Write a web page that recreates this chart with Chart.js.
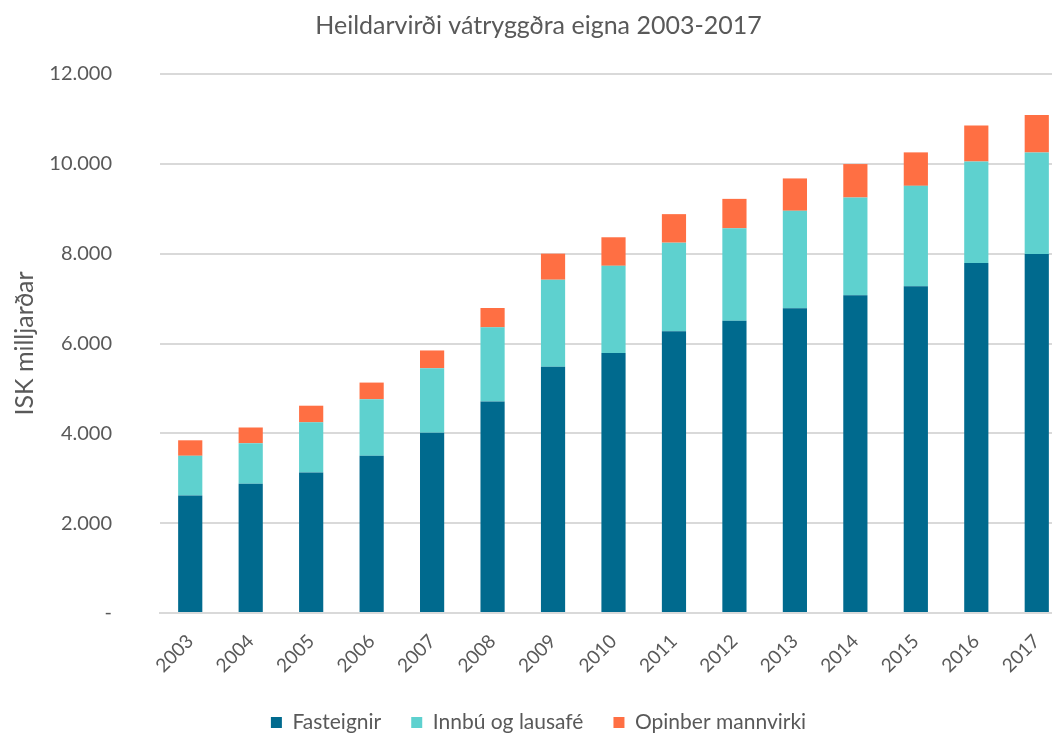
<!DOCTYPE html>
<html>
<head>
<meta charset="utf-8">
<title>Heildarvirði vátryggðra eigna</title>
<script src="https://cdn.jsdelivr.net/npm/chart.js@4"></script>
<style>
    html, body { margin: 0; padding: 0; background: #fff; overflow: hidden; }
    #wrap { width: 1070px; height: 734px; }
</style>
</head>
<body>
<div id="wrap"><canvas id="valueChart"></canvas></div>
<script>
// data (ISK milljarðar)
var years = ['2003', '2004', '2005', '2006', '2007', '2008', '2009', '2010',
    '2011', '2012', '2013', '2014', '2015', '2016', '2017'];
var fasteignir = [2615, 2875, 3130, 3500, 4015, 4710, 5480, 5790, 6270, 6505, 6785, 7075, 7275, 7790, 7990];
var innbu = [885, 905, 1115, 1260, 1435, 1650, 1940, 1940, 1975, 2060, 2170, 2175, 2235, 2260, 2260];
var opinber = [345, 350, 370, 370, 395, 430, 580, 635, 635, 655, 720, 745, 745, 805, 835];
var yTicks = [0, 2000, 4000, 6000, 8000, 10000, 12000];

var textColor = '#595959';
var fontName = 'Lato';

// 12000 -> "12.000", 0 -> "-"
function formatTick(v) {
    if (v === 0) {
        return '-';
    }
    return String(v).replace(/\B(?=(\d{3})+(?!\d))/g, '.');
}

var ctx = document.getElementById('valueChart').getContext('2d');
new Chart(ctx, {
    type: 'bar',
    data: {
        labels: years,
        datasets: [
            {label: 'Fasteignir', data: fasteignir, backgroundColor: '#006A8E'},
            {label: 'Innbú og lausafé', data: innbu, backgroundColor: '#5ED1CF'},
            {label: 'Opinber mannvirki', data: opinber, backgroundColor: '#FF6F43'}
        ]
    },
    options: {
        responsive: true,
        maintainAspectRatio: false,
        animation: false,
        layout: {padding: {left: 10, right: 3, top: 0, bottom: -9}},
        datasets: {
            bar: {barPercentage: 0.8, categoryPercentage: 0.5}
        },
        plugins: {
            title: {
                display: true,
                text: 'Heildarvirði vátryggðra eigna 2003-2017',
                color: textColor,
                font: {size: 25, family: fontName, weight: 'normal'},
                padding: {top: 11, bottom: 33}
            },
            legend: {
                position: 'bottom',
                labels: {
                    color: textColor,
                    font: {size: 21, family: fontName},
                    boxWidth: 11,
                    boxHeight: 11,
                    padding: 30
                }
            },
            tooltip: {enabled: false}
        },
        scales: {
            x: {
                stacked: true,
                grid: {display: false},
                border: {color: '#D9D9D9', width: 2},
                afterFit: function (scale) {
                    scale.height = 69;
                },
                ticks: {
                    color: textColor,
                    font: {size: 19, family: fontName},
                    minRotation: 45,
                    maxRotation: 45,
                    padding: 9
                }
            },
            y: {
                stacked: true,
                min: 0,
                max: 12000,
                afterBuildTicks: function (scale) {
                    scale.ticks = yTicks.map(function (v) { return {value: v}; });
                },
                afterFit: function (scale) {
                    scale.width = 150;
                },
                grid: {color: '#D9D9D9', lineWidth: 2, drawTicks: false},
                border: {display: false},
                ticks: {
                    color: textColor,
                    font: {size: 20, family: fontName},
                    padding: 48,
                    callback: function (v) { return formatTick(v); }
                },
                title: {
                    display: true,
                    text: 'ISK milljarðar',
                    color: textColor,
                    font: {size: 25, family: fontName},
                    padding: 0
                }
            }
        }
    }
});
</script>
</body>
</html>
